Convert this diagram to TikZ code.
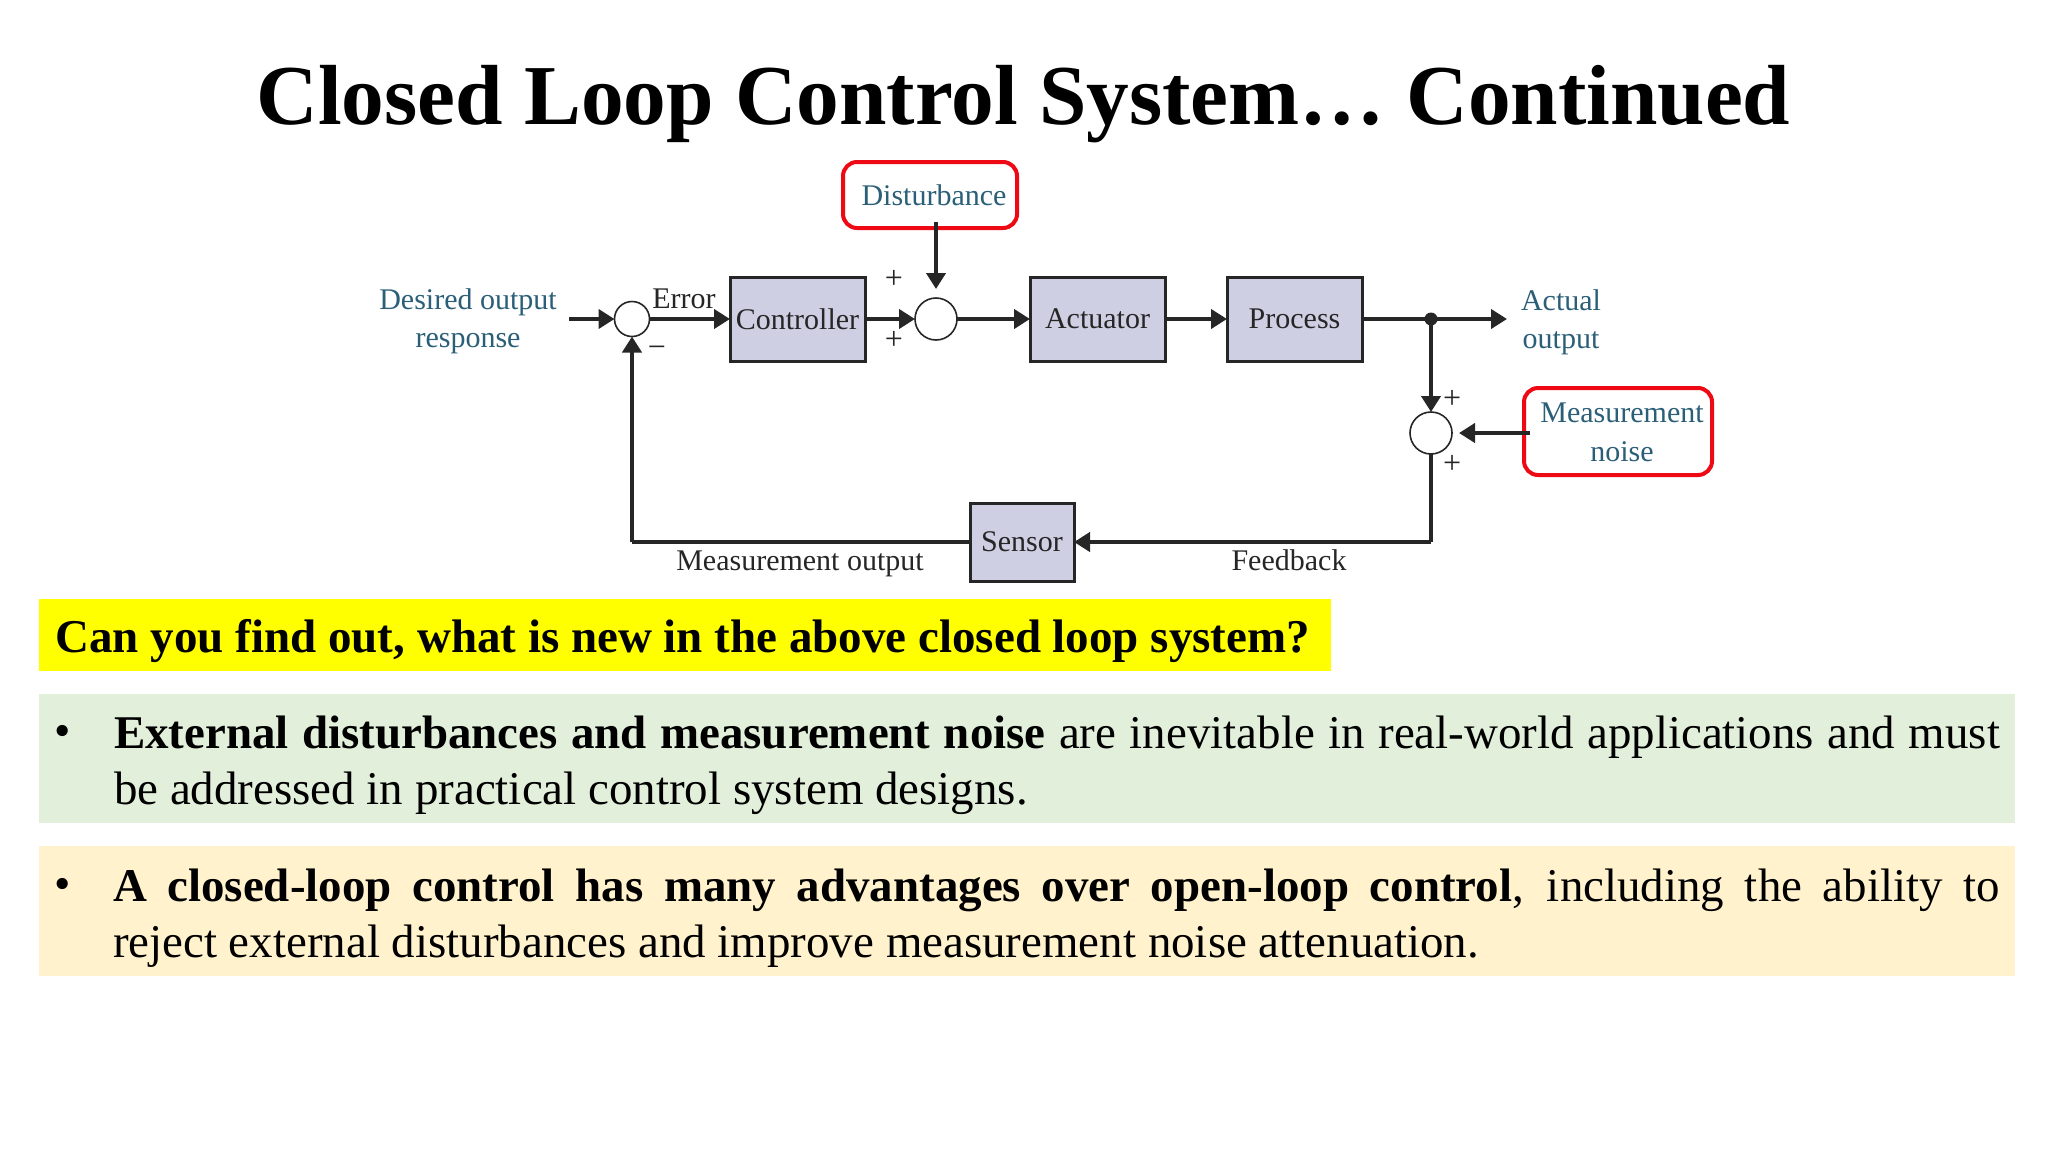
\documentclass[tikz,border=0pt]{standalone}
\usepackage{fontspec}
\setmainfont{Liberation Serif}
\usetikzlibrary{arrows.meta,calc}
\definecolor{labelteal}{HTML}{2B5F78}
\definecolor{blockfill}{HTML}{CFCFE4}
\definecolor{inkdark}{HTML}{262626}
\definecolor{greenbar}{HTML}{E2EFDA}
\definecolor{orangebar}{HTML}{FFF2CC}
\definecolor{redbox}{HTML}{EE0A14}
\definecolor{yellowbar}{HTML}{FFFF00}
\tikzset{
  txt/.style={inner sep=0pt,outer sep=0pt,text=inkdark,font=\fontsize{15}{19}\selectfont},
  sign/.style={txt,font=\fontsize{16}{19}\selectfont},
  teal/.style={txt,text=labelteal,align=center},
  block/.style={draw=inkdark,fill=blockfill,line width=1.5pt,inner sep=0pt,txt,anchor=center},
  summer/.style={draw=inkdark,fill=white,circle,line width=0.8pt,inner sep=0pt,outer sep=0pt},
  redframe/.style={draw=redbox,line width=2pt,rounded corners=7pt,inner sep=0pt,teal},
  wire/.style={draw=inkdark,line width=2.3pt},
  flow/.style={wire,-{Triangle[length=8pt,width=9.5pt]}},
  para/.style={inner sep=0pt,outer sep=0pt,anchor=north west,text=black,font=\fontsize{23.47}{28}\selectfont},
}
\begin{document}
\begin{tikzpicture}[x=0.5pt,y=-0.5pt]
\useasboundingbox[fill=white] (0,0) rectangle (2048,1152);
\node[inner sep=0pt,anchor=base,font=\bfseries\fontsize{42.65}{48}\selectfont] (title) at (1023.5,124) {Closed Loop Control System… Continued};

% blocks
\node[block,minimum width=67.5pt,minimum height=42pt] (ctrl) at (797.5,319) {Controller};
\node[block,minimum width=67.5pt,minimum height=42pt] (act) at (1097.5,319) {Actuator};
\node[block,minimum width=67.5pt,minimum height=42pt] (proc) at (1294.5,319) {Process};
\node[block,minimum width=52pt,minimum height=39pt] (sens) at (1022,542) {Sensor};
\node[summer,minimum size=17.5pt] (s1) at (632,319) {};
\node[summer,minimum size=21pt] (s2) at (936,319) {};
\node[summer,minimum size=21pt] (s3) at (1431,433) {};
\node[redframe,minimum width=87pt,minimum height=33pt] (dist) at (930,195) {\hspace{4pt}Disturbance};
\node[redframe,minimum width=94pt,minimum height=43.5pt] (noise) at (1618,431.5) {\hspace{4pt}\raisebox{-5pt}[0pt][0pt]{\begin{tabular}{@{}c@{}}Measurement\\[0.3pt]noise\end{tabular}}};
\node[teal] (desired) at (468,321.5) {Desired output\\response};
\node[teal] (actual) at (1561,322) {Actual\\output};
\coordinate (inp) at (569,319);
\coordinate (outp) at (1507,319);
\coordinate (tap) at (1431,319);
\coordinate (cornerA) at (1431,542);
\coordinate (cornerB) at (632,542);

% connectors
\draw[flow] (inp) -- (s1.west);
\draw[flow] (s1.east) -- (ctrl.west);
\draw[flow] (ctrl.east) -- (s2.west);
\draw[flow] (s2.east) -- (act.west);
\draw[flow] (act.east) -- (proc.west);
\draw[flow] (proc.east) -- (outp);
\fill[inkdark] (tap) circle (6.5);
\draw[flow] (tap) -- (s3.north);
\draw[flow,shorten <=-3pt,shorten >=4.5pt] (s2.north |- dist.south) -- (s2.north);
\draw[flow,shorten <=-3pt,shorten >=3.5pt] (s3.east -| noise.west) -- (s3.east);
\draw[wire] (s3.south) -- (cornerA);
\draw[flow] (cornerA) -- (sens.east);
\draw[wire] (sens.west) -- (cornerB);
\draw[flow] (cornerB) -- (s1.south);

% labels
\node[txt,anchor=base] (err) at (684,308) {Error};
\node[sign] (p1) at (894,279) {+};
\node[sign] (p2) at (894,340) {+};
\node[sign] (m1) at (657,352) {−};
\node[sign] (p3) at (1452,399) {+};
\node[sign] (p4) at (1452,464) {+};
\node[txt] (mout) at (800,564) {Measurement output};
\node[txt] (fb) at (1289,560) {Feedback};

% bars
\fill[yellowbar] (39,599) rectangle (1331,671);
\node[inner sep=0pt,anchor=base west,font=\bfseries\fontsize{23.5}{28}\selectfont] (q) at (55,652) {Can you find out, what is new in the above closed loop system?};
\fill[greenbar] (39,694) rectangle (2015,823);
\fill[orangebar] (39,846) rectangle (2015,976);
\node[anchor=base,inner sep=0pt,font=\fontsize{23.4}{28}\selectfont] (b1) at (63,746) {•};
\node[anchor=base,inner sep=0pt,font=\fontsize{23.4}{28}\selectfont] (b2) at (63,899) {•};
\node[para] (t1) at (114,709) {\parbox[t]{943pt}{\strut\textbf{External disturbances and measurement noise} are inevitable in real-world applications and must\linebreak be addressed in practical control system designs.\strut}};
\node[para] (t2) at (113,862) {\parbox[t]{943.5pt}{\strut\textbf{A closed-loop control has many advantages over open-loop control}, including the ability to\linebreak reject external disturbances and improve measurement noise attenuation.\strut}};
\end{tikzpicture}
\end{document}
